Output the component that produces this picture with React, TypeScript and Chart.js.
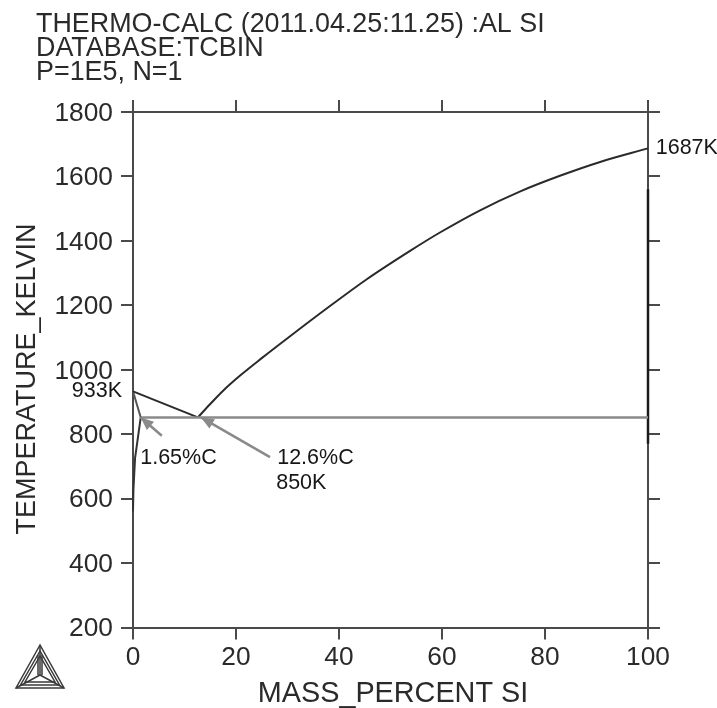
import React, { useEffect, useRef } from "react";
import { Chart, registerables } from "chart.js";

Chart.register(...registerables);

const FONT = '"Liberation Sans", Arial, sans-serif';
const AXIS = "#4a4a4a";
const DARK = "#2a2a2a";
const GRAY = "#8a8a8a";

const titleLines = ["THERMO-CALC (2011.04.25:11.25) :AL SI", "DATABASE:TCBIN", "P=1E5, N=1"];
const xAxisTitle = "MASS_PERCENT SI";
const yAxisTitle = "TEMPERATURE_KELVIN";

const alLiquidusX = [0, 12.6];
const alLiquidusT = [933, 852];
const siLiquidusX = [12.6, 14.95, 17.5, 20.8, 25, 30.5, 37.6, 45.4, 53.8, 59.6, 67.4, 75.1, 82.9, 90.7, 100];
const siLiquidusT = [852, 893, 935, 982, 1036, 1104, 1190, 1281, 1369, 1426, 1495, 1553, 1602, 1645, 1687];
const solidusX = [0, 1.5];
const solidusT = [933, 852];
const solvusX = [1.5, 0.4, 0.08, 0];
const solvusT = [852, 726, 627, 560];
const eutecticX = [1.5, 100];
const eutecticT = [852, 852];
const siEdgeX = [100, 100];
const siEdgeT = [1560, 770];

const arrow1X = [5.6, 1.5];
const arrow1T = [795, 852];
const arrow2X = [26.6, 13.2];
const arrow2T = [729, 852];

const labelTexts = ["933K", "1687K", "1.65%C", "12.6%C", "850K"];
const labelX = [-7, 101.5, 1.4, 28, 27.8];
const labelT = [933, 1687, 725, 727, 647];
const labelAlign = ["center", "left", "left", "left", "left"];

const toPts = (xs: number[], ys: number[]) => xs.map((x, i) => ({ x, y: ys[i] }));

const line = (xs: number[], ys: number[], color: string, width: number, smooth = false) => ({
  data: toPts(xs, ys),
  showLine: true,
  borderColor: color,
  backgroundColor: color,
  borderWidth: width,
  pointRadius: 0,
  tension: 0,
  cubicInterpolationMode: smooth ? "monotone" : "default",
});

const decorations = {
  id: "decorations",
  afterDatasetsDraw(chart: any) {
    const { ctx, scales } = chart;
    const px = (v: number) => scales.x.getPixelForValue(v);
    const py = (v: number) => scales.y.getPixelForValue(v);
    ctx.save();

    // arrow heads
    ctx.fillStyle = GRAY;
    [[arrow1X, arrow1T], [arrow2X, arrow2T]].forEach(([xs, ts]) => {
      const x0 = px(xs[0]), y0 = py(ts[0]), x1 = px(xs[1]), y1 = py(ts[1]);
      const a = Math.atan2(y1 - y0, x1 - x0);
      ctx.beginPath();
      ctx.moveTo(x1, y1);
      ctx.lineTo(x1 - 14 * Math.cos(a - 0.4), y1 - 14 * Math.sin(a - 0.4));
      ctx.lineTo(x1 - 14 * Math.cos(a + 0.4), y1 - 14 * Math.sin(a + 0.4));
      ctx.closePath();
      ctx.fill();
    });

    // annotations
    ctx.fillStyle = "#161616";
    ctx.textBaseline = "middle";
    ctx.font = `21.5px ${FONT}`;
    labelTexts.forEach((t, i) => {
      ctx.textAlign = labelAlign[i];
      ctx.fillText(t, px(labelX[i]), py(labelT[i]));
    });

    // heading
    ctx.fillStyle = "#2a2a2a";
    ctx.textAlign = "left";
    ctx.textBaseline = "alphabetic";
    ctx.font = `26.9px ${FONT}`;
    titleLines.forEach((t, i) => ctx.fillText(t, 36, 32 + i * 24));

    // axis titles
    ctx.textAlign = "center";
    ctx.textBaseline = "middle";
    ctx.font = `28.8px ${FONT}`;
    ctx.fillText(xAxisTitle, 393, 694);
    ctx.font = `27px ${FONT}`;
    ctx.translate(28, 379);
    ctx.rotate(-Math.PI / 2);
    ctx.fillText(yAxisTitle, 0, 0);
    ctx.setTransform(1, 0, 0, 1, 0, 0);

    // logo
    ctx.strokeStyle = "#3a3a3a";
    ctx.lineWidth = 1.5;
    const tri = (ax: number, ay: number, bx: number, by: number, cx: number, cy: number) => {
      ctx.beginPath();
      ctx.moveTo(ax, ay);
      ctx.lineTo(bx, by);
      ctx.lineTo(cx, cy);
      ctx.closePath();
      ctx.stroke();
    };
    tri(40, 645, 16, 688, 64, 688);
    tri(40, 651, 20.5, 685, 59.5, 685);
    tri(40, 656, 25, 682, 55, 682);
    ctx.beginPath();
    ctx.moveTo(40, 645); ctx.lineTo(40, 675);
    ctx.moveTo(16, 688); ctx.lineTo(40, 675);
    ctx.moveTo(64, 688); ctx.lineTo(40, 675);
    ctx.moveTo(38, 655); ctx.lineTo(38, 675);
    ctx.moveTo(42, 655); ctx.lineTo(42, 675);
    ctx.stroke();
    ctx.restore();
  },
};

const fixed = (prop: "width" | "height", size: number) => (scale: any) => {
  scale[prop] = size;
};
const plain = (v: number) => String(v);

export default function App() {
  const ref = useRef<HTMLCanvasElement>(null);
  useEffect(() => {
    const axisCommon = {
      border: { color: AXIS, width: 2 },
      grid: { color: AXIS, lineWidth: 2, drawOnChartArea: false, tickLength: 12 },
    };
    const tickFont = { family: FONT, size: 26.3 };
    const chart = new Chart(ref.current as HTMLCanvasElement, {
      type: "scatter",
      data: {
        datasets: [
          line(eutecticX, eutecticT, GRAY, 2.5),
          line(arrow1X, arrow1T, GRAY, 2.5),
          line(arrow2X, arrow2T, GRAY, 2.5),
          line(alLiquidusX, alLiquidusT, DARK, 2),
          line(siLiquidusX, siLiquidusT, DARK, 2, true),
          line(solidusX, solidusT, "#555555", 2),
          line(solvusX, solvusT, "#333333", 2),
          line(siEdgeX, siEdgeT, "#1c1c1c", 2.5),
        ] as any,
      },
      plugins: [decorations],
      options: {
        animation: false,
        responsive: false,
        clip: false,
        layout: { padding: 0 },
        plugins: { legend: { display: false }, title: { display: false }, tooltip: { enabled: false } },
        scales: {
          x: {
            type: "linear", position: "bottom", min: 0, max: 100,
            ...axisCommon,
            ticks: { stepSize: 20, color: "#2a2a2a", font: tickFont, padding: 2, maxRotation: 0, callback: plain },
            afterFit: fixed("height", 80.5),
          },
          xTop: {
            type: "linear", position: "top", min: 0, max: 100,
            ...axisCommon,
            ticks: { stepSize: 20, display: false },
            afterFit: fixed("height", 112),
          },
          y: {
            type: "linear", position: "left", min: 200, max: 1800,
            ...axisCommon,
            ticks: { stepSize: 200, color: "#2a2a2a", font: tickFont, padding: 8, labelOffset: 1.5, callback: plain },
            afterFit: fixed("width", 133),
          },
          yRight: {
            type: "linear", position: "right", min: 200, max: 1800,
            ...axisCommon,
            ticks: { stepSize: 200, display: false },
            afterFit: fixed("width", 69),
          },
        },
      } as any,
    });
    return () => chart.destroy();
  }, []);
  return (
    <canvas
      ref={ref}
      width={717}
      height={708}
      style={{ position: "fixed", left: 0, top: 0, width: 717, height: 708, display: "block", filter: "blur(0.45px)", background: "#fff" }}
    />
  );
}
